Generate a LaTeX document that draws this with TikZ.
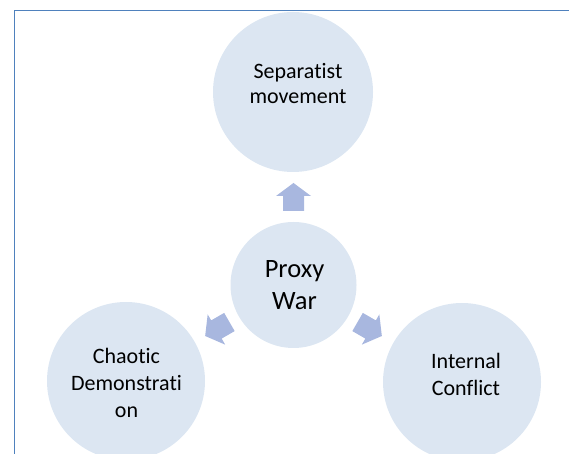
\documentclass[tikz,border=0pt]{standalone}
\usepackage{fontspec}
\setmainfont{Carlito}[Ligatures={NoCommon,NoRequired,NoContextual}]
\definecolor{circfill}{HTML}{DCE6F2}
\definecolor{arrfill}{HTML}{A8B7DF}
\definecolor{framecol}{HTML}{4F81BD}
\tikzset{
  bubble/.style={circle, fill=circfill, draw=none, inner sep=0pt},
  lbl/.style={align=center, inner sep=0pt, text=black},
  arrowshape/.style={fill=arrfill, draw=none},
  framestyle/.style={draw=framecol, line width=1pt}
}
\begin{document}
\begin{tikzpicture}[x=1pt,y=1pt]
\useasboundingbox (0,0) rectangle (569,454);
\begin{scope}
\clip (0,0) rectangle (569,454);
% circles
\node[bubble, minimum size=160pt] (top) at (293,362) {};
\node[bubble, minimum size=126pt] (hub) at (293.5,169) {};
\node[bubble, minimum size=158pt] (left) at (126,73) {};
\node[bubble, minimum size=158pt] (right) at (462,72) {};
% arrows
\foreach \ang/\nm in {90/aup,210/aleft,330/aright}{
  \fill[arrowshape, shift={(hub.center)}, rotate=\ang]
    (74,-10.5) -- (89,-10.5) -- (89,-17.5) -- (102,0) -- (89,17.5) -- (89,10.5) -- (74,10.5) -- cycle;
}
% labels
\node[lbl, font=\fontsize{22}{25}\selectfont] (toplbl) at (298,370) {Separatist\\movement};
\node[lbl, font=\fontsize{26.5}{32}\selectfont] (hublbl) at (294.5,169) {Proxy\\War};
\node[lbl, font=\fontsize{22}{27}\selectfont] (leftlbl) at (126.5,71.5) {Chaotic\\Demonstrati\\on};
\node[lbl, font=\fontsize{22}{27}\selectfont] (rightlbl) at (466,79.5) {Internal\\Conflict};
% frame
\draw[framestyle] (14,0) -- (14,443) -- (569,443);
\end{scope}
\end{tikzpicture}
\end{document}
